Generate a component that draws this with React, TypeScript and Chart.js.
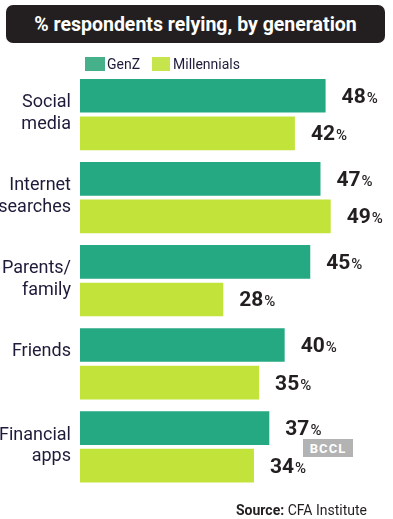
import React, { useEffect, useRef } from "react";
import { Chart, registerables } from "chart.js";

Chart.register(...registerables);

const categories: string[][] = [
  ["Social", "media"],
  ["Internet", "searches"],
  ["Parents/", "family"],
  ["Friends", ""],
  ["Financial", "apps"],
];
const genZ = [48, 47, 45, 40, 37];
const millennials = [42, 49, 28, 35, 34];
const seriesNames = ["GenZ", "Millennials"];

const GENZ_COLOR = "#25a982";
const MILL_COLOR = "#c2e43a";
const FONT = "Roboto, 'Noto Sans', sans-serif";

const valueLabels = {
  id: "valueLabels",
  afterDatasetsDraw(chart: any) {
    const ctx = chart.ctx;
    ctx.save();
    chart.data.datasets.forEach((ds: any, i: number) => {
      const meta = chart.getDatasetMeta(i);
      meta.data.forEach((bar: any, j: number) => {
        const s = String(ds.data[j]);
        const x = bar.x + 16;
        const y = bar.y + 7;
        ctx.fillStyle = "#231f20";
        ctx.textAlign = "left";
        ctx.textBaseline = "alphabetic";
        ctx.font = `bold 21px ${FONT}`;
        ctx.fillText(s, x, y);
        const w = ctx.measureText(s).width;
        ctx.font = `500 15px ${FONT}`;
        ctx.fillText("%", x + w + 1, y);
      });
    });
    ctx.restore();
  },
};

export default function App() {
  const ref = useRef<HTMLCanvasElement>(null);
  useEffect(() => {
    if (!ref.current) return;
    const chart = new Chart(ref.current, {
      type: "bar",
      data: {
        labels: categories,
        datasets: [
          {
            label: seriesNames[0],
            data: genZ,
            backgroundColor: GENZ_COLOR,
            categoryPercentage: 0.905,
            barPercentage: 0.895,
          },
          {
            label: seriesNames[1],
            data: millennials,
            backgroundColor: MILL_COLOR,
            categoryPercentage: 0.905,
            barPercentage: 0.895,
          },
        ],
      },
      options: {
        indexAxis: "y",
        responsive: false,
        animation: false,
        layout: { padding: { left: 0, right: 6, top: 73, bottom: 26 } },
        plugins: { legend: { display: false }, tooltip: { enabled: false } },
        scales: {
          x: { display: false, min: 0, max: 60 },
          y: {
            afterFit: (axis: any) => {
              axis.width = 80;
            },
            grid: { display: false, drawTicks: false },
            border: { display: false },
            ticks: {
              padding: 9,
              color: "#1e1b3a",
              labelOffset: -1,
              font: { family: FONT, size: 18, lineHeight: 1.2 },
            },
          },
        },
      },
      plugins: [valueLabels],
    });
    return () => chart.destroy();
  }, []);

  const abs = (o: React.CSSProperties): React.CSSProperties => ({
    position: "absolute",
    ...o,
  });

  return (
    <div
      style={{
        position: "absolute",
        left: 0,
        top: 0,
        width: 393,
        height: 519,
        background: "#fff",
        fontFamily: FONT,
      }}
    >
      <canvas ref={ref} width={393} height={519} style={abs({ left: 0, top: 0 })} />
      <div
        style={abs({
          left: 6,
          top: 5,
          width: 379,
          height: 38,
          background: "#231f20",
          borderRadius: 7,
          color: "#fff",
          fontWeight: 700,
          fontSize: 19.5,
          display: "flex",
          alignItems: "center",
          justifyContent: "center",
        })}
      >
        % respondents relying, by generation
      </div>
      <div style={abs({ left: 85, top: 57, width: 20, height: 14, background: "#46b08b" })} />
      <div style={abs({ left: 107, top: 55, fontSize: 14, lineHeight: "18px", color: "#1e1b3a" })}>
        {seriesNames[0]}
      </div>
      <div style={abs({ left: 152, top: 57, width: 18, height: 14, background: "#c6e44c" })} />
      <div style={abs({ left: 173, top: 55, fontSize: 14, lineHeight: "18px", color: "#1e1b3a" })}>
        {seriesNames[1]}
      </div>
      <div
        style={abs({
          left: 303,
          top: 439,
          width: 50,
          height: 18,
          background: "#b3b3b3",
          color: "#fff",
          fontWeight: 700,
          fontSize: 13,
          letterSpacing: 1,
          display: "flex",
          alignItems: "center",
          justifyContent: "center",
        })}
      >
        BCCL
      </div>
      <div style={abs({ left: 236, top: 501, fontSize: 14, lineHeight: "18px", color: "#231f20", whiteSpace: "nowrap" })}>
        <b>Source:</b> CFA Institute
      </div>
    </div>
  );
}
